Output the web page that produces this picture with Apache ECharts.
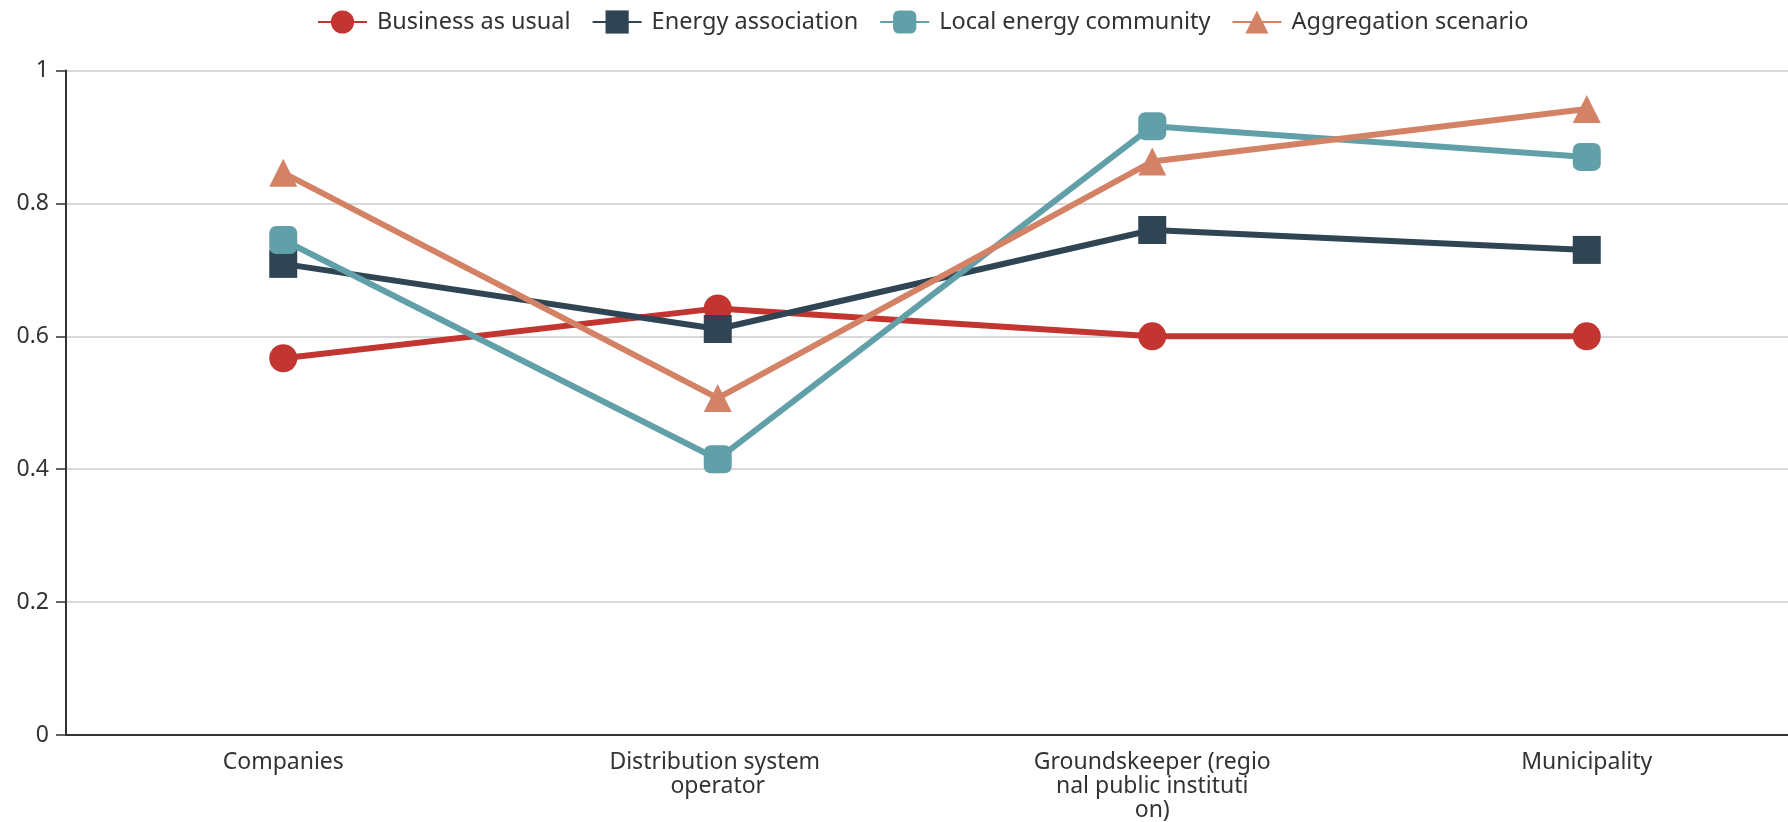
<!DOCTYPE html>
<html>
<head>
<meta charset="utf-8">
<script src="https://cdn.jsdelivr.net/npm/echarts@6/dist/echarts.min.js"></script>
<style>
html,body{margin:0;padding:0;background:#fff;overflow:hidden;width:1788px;height:822px;}
#chart{width:1844px;height:822px;}
</style>
</head>
<body>
<div id="chart"></div>
<script>
const categories = ['Companies', 'Distribution system operator', 'Groundskeeper (regional public institution)', 'Municipality'];
const seriesNames = ['Business as usual', 'Energy association', 'Local energy community', 'Aggregation scenario'];
const businessAsUsual = [0.567, 0.642, 0.600, 0.600];
const energyAssociation = [0.709, 0.611, 0.760, 0.730];
const localEnergyCommunity = [0.745, 0.415, 0.916, 0.870];
const aggregationScenario = [0.846, 0.507, 0.863, 0.942];
const yTicks = [0, 0.2, 0.4, 0.6, 0.8, 1];

const colors = ['#c23531', '#2f4554', '#61a0a8', '#d48265'];
const symbols = ['circle', 'rect', 'roundRect', 'triangle'];
const values = [businessAsUsual, energyAssociation, localEnergyCommunity, aggregationScenario];
const FONT = '"Noto Sans", sans-serif';

function chunk(s) {
  const out = [];
  for (let i = 0; i < s.length; i += 20) out.push(s.slice(i, i + 20));
  return out.join('\n');
}

const chart = echarts.init(document.getElementById('chart'));
chart.setOption({
  color: colors,
  animation: false,
  textStyle: { fontFamily: FONT },
  legend: {
    left: 312,
    top: 5,
    itemWidth: 49,
    itemHeight: 29,
    itemGap: 21,
    textStyle: { fontSize: 23.5, color: '#333', fontFamily: FONT, padding: [0, 0, 0, 5] },
    data: seriesNames
  },
  grid: { left: 66, right: 40, top: 70.5, bottom: 86.5, containLabel: false },
  xAxis: {
    type: 'category',
    data: categories,
    boundaryGap: true,
    axisLine: { lineStyle: { color: '#333', width: 2 } },
    axisTick: { length: 10, lineStyle: { width: 1.5 } },
    axisLabel: {
      fontSize: 23, color: '#333', margin: 15, lineHeight: 24, fontFamily: FONT,
      interval: 0,
      formatter: chunk
    }
  },
  yAxis: {
    type: 'value',
    min: 0, max: 1, interval: 0.2,
    axisLine: { show: true, lineStyle: { color: '#333', width: 2 } },
    axisTick: { show: true, length: 10, lineStyle: { width: 1.5 } },
    axisLabel: {
      fontSize: 23, color: '#333', margin: 17, fontFamily: FONT,
      formatter: v => String(yTicks.find(t => Math.abs(t - v) < 1e-9) ?? v)
    },
    splitLine: { lineStyle: { color: '#ccc', width: 1.5 } }
  },
  series: seriesNames.map((name, i) => ({
    name: name,
    type: 'line',
    data: values[i],
    symbol: symbols[i],
    symbolSize: 28,
    showAllSymbol: true,
    lineStyle: { width: 6, color: colors[i] },
    itemStyle: { color: colors[i] }
  }))
});
</script>
</body>
</html>
